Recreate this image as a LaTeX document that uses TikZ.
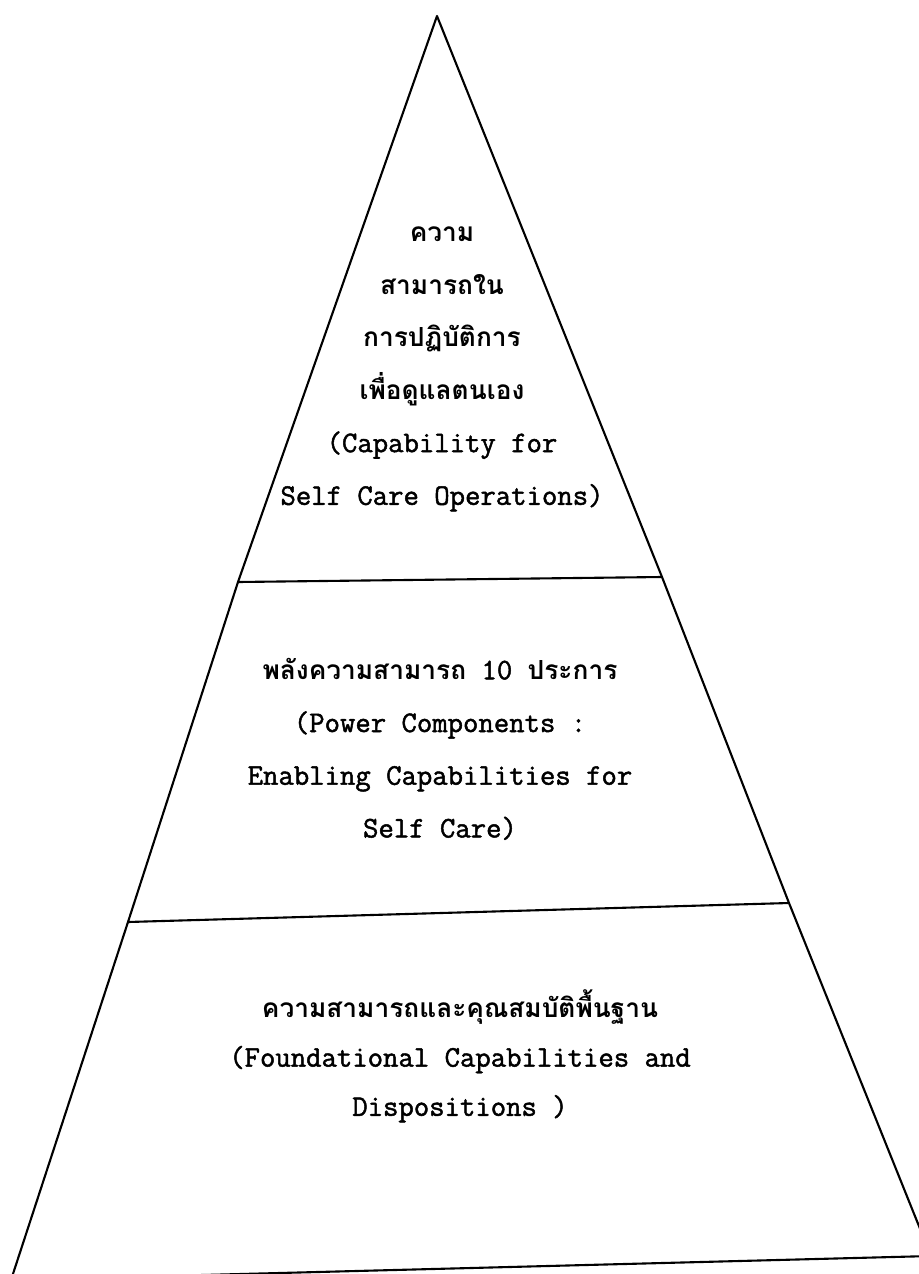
\documentclass[tikz,border=0pt]{standalone}
\usepackage{fontspec}
\setmainfont{Latin Modern Mono}[FakeBold=1.6]
\newfontfamily\thaifont[Script=Thai,Scale=0.88]{Loma}
\newcommand\thl[1]{{\thaifont\bfseries #1}}
\begin{document}
\begin{tikzpicture}[x=0.02cm,y=-0.02cm,
  lvl/.style={align=center,font=\fontsize{17}{30}\selectfont},
  edge/.style={line width=1.2pt,line join=round}]
\useasboundingbox (0,0) rectangle (919,1274);
\clip (0,0) rectangle (919,1274);
\coordinate (top) at (437,16);
\coordinate (l1) at (238,582);
\coordinate (r1) at (662,577);
\coordinate (l2) at (128,922);
\coordinate (r2) at (789,903);
\coordinate (bl) at (11,1280);
\coordinate (br) at (931,1256);
\draw[edge] (top)--(l1)--(l2)--(bl)--(br)--(r2)--(r1)--cycle;
\draw[edge] (l1)--(r1);
\draw[edge] (l2)--(r2);
\node[lvl] (capop) at (442,369) {\thl{ความ}\\\thl{สามารถใน}\\\thl{การปฏิบัติการ}\\\thl{เพื่อดูแลตนเอง}\\(Capability for\\Self Care Operations)};
\node[lvl] (power) at (440,749) {\thl{พลังความสามารถ} 10 \thl{ประการ}\\(Power Components :\\Enabling Capabilities for\\Self Care)};
\node[lvl,font=\fontsize{17}{28}\selectfont] (found) at (460,1056) {\thl{ความสามารถและคุณสมบัติพื้นฐาน}\\(Foundational Capabilities and\\Dispositions )};
\end{tikzpicture}
\end{document}
